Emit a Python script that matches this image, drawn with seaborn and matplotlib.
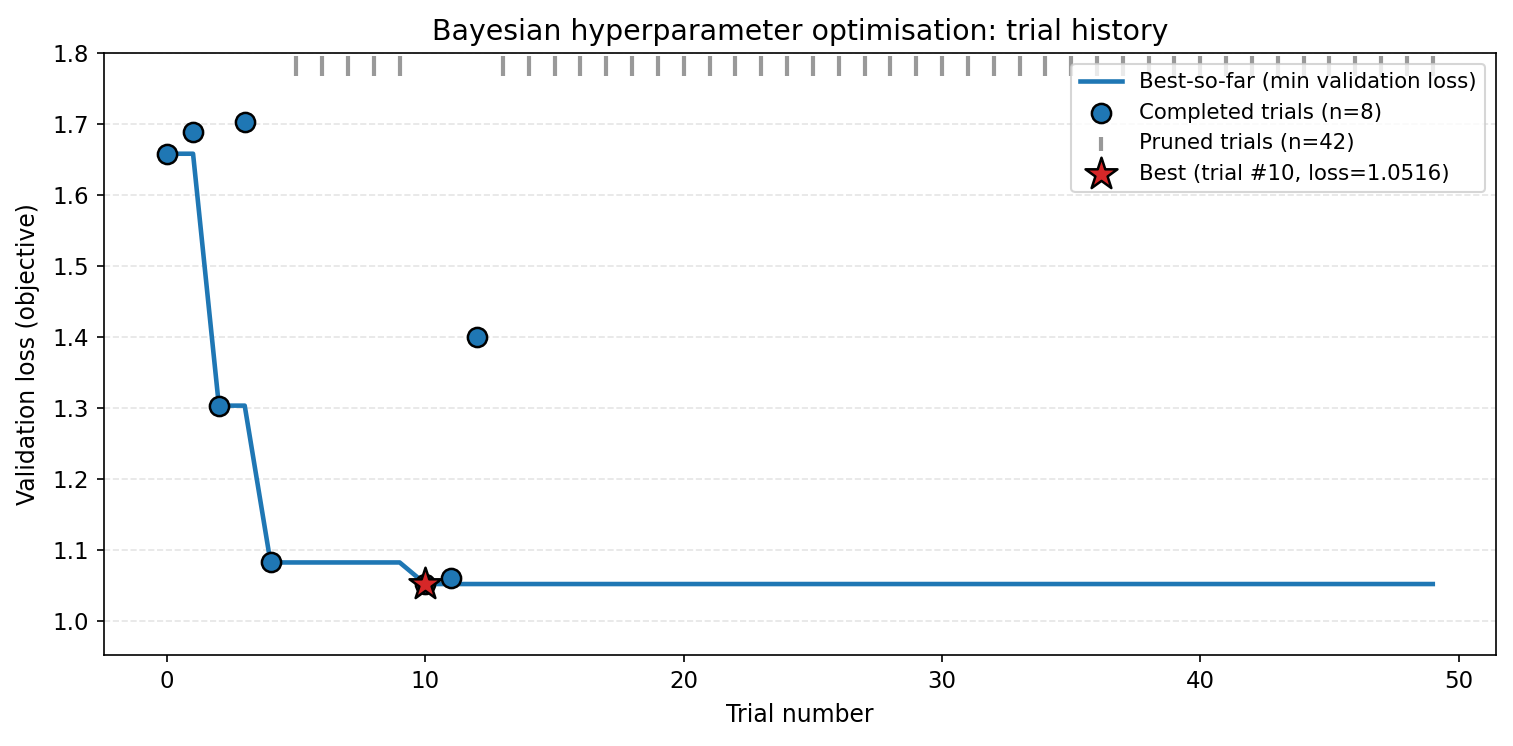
import numpy as np
import matplotlib
matplotlib.use("Agg")
import matplotlib.pyplot as plt
import seaborn as sns

# completed trials and their validation loss
completed_trials = [0, 1, 2, 3, 4, 10, 11, 12]
completed_loss = [1.658, 1.688, 1.303, 1.703, 1.082, 1.0516, 1.060, 1.400]

# pruned trials (no final objective)
pruned_trials = [5, 6, 7, 8, 9] + list(range(13, 50))

n_trials = 50
best_trial = 10
best_loss = 1.0516


def best_so_far(trials, losses, n):
    """Running minimum across all trial numbers (pruned ones carry forward)."""
    lookup = dict(zip(trials, losses))
    out = []
    cur = np.inf
    for t in range(n):
        if t in lookup:
            cur = min(cur, lookup[t])
        out.append(cur)
    return np.arange(n), np.array(out)


def main():
    fig, ax = plt.subplots(figsize=(1513 / 150, 746 / 150), dpi=150)
    fig.subplots_adjust(left=0.0687, right=0.9888, top=0.929, bottom=0.122)

    xs, best = best_so_far(completed_trials, completed_loss, n_trials)
    sns.lineplot(x=xs, y=best, ax=ax, color="#1f77b4", linewidth=2.2,
                 label="Best-so-far (min validation loss)", zorder=2)

    sns.scatterplot(x=completed_trials, y=completed_loss, ax=ax, s=85,
                    color="#1f77b4", edgecolor="black", linewidth=1.2,
                    label=f"Completed trials (n={len(completed_trials)})", zorder=3)

    pruned_y = np.full(len(pruned_trials), 1.781)
    ax.scatter(pruned_trials, pruned_y, marker="|", s=90, color="#999999",
               linewidths=2, label=f"Pruned trials (n={len(pruned_trials)})", zorder=2)

    ax.scatter([best_trial], [best_loss], marker="*", s=260, color="#d62728",
               edgecolor="black", linewidths=1.2,
               label=f"Best (trial #{best_trial}, loss={best_loss:.4f})", zorder=4)

    ax.set_ylim(best_loss - 0.1, 1.8)
    ax.set_xlim(-0.05 * (n_trials - 1), (n_trials - 1) * 1.05)
    ax.grid(axis="y", linestyle="--", color="#cccccc", alpha=0.5)
    ax.set_axisbelow(True)

    ax.set_title("Bayesian hyperparameter optimisation: trial history", fontsize=13.6)
    ax.set_xlabel("Trial number", fontsize=11.3, labelpad=5)
    ax.set_ylabel("Validation loss (objective)", fontsize=11.3, labelpad=6)
    ax.tick_params(labelsize=11)
    leg = ax.legend(loc="upper right", fontsize=10.2)
    for h in leg.legend_handles:
        if getattr(h, "get_paths", None) and h.get_label() == "":
            pass
    leg.legend_handles[2].set_sizes([45])

    fig.savefig("out.png", dpi=150)
    plt.close(fig)


if __name__ == "__main__":
    main()
